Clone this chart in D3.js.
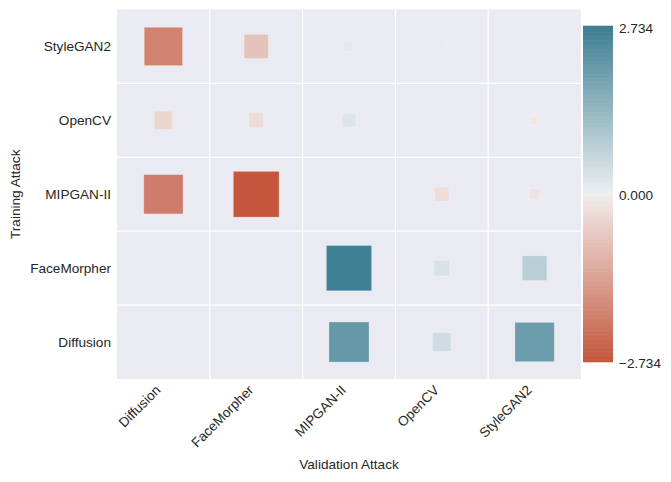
<!DOCTYPE html>
<html>
<head>
<meta charset="utf-8">
<title>Training vs validation attack</title>
<script src="https://cdn.jsdelivr.net/npm/d3@7"></script>
<style>
  body { margin: 0; background: #fff; }
  text { font-family: "Liberation Sans", Arial, sans-serif; font-size: 13.6px; fill: #262626; }
</style>
</head>
<body>
<script>
// validation attacks along x, training attacks along y (top to bottom)
var valAttacks = ["Diffusion", "FaceMorpher", "MIPGAN-II", "OpenCV", "StyleGAN2"];
var trainAttacks = ["StyleGAN2", "OpenCV", "MIPGAN-II", "FaceMorpher", "Diffusion"];

// one row per training attack, values in valAttacks order (null = no marker)
var rowStyleGAN2   = [-1.92, -0.77,  0.14,  0.11,  null];
var rowOpenCV      = [-0.44, -0.29,  0.25,  null, -0.11];
var rowMIPGAN      = [-2.02, -2.734, null, -0.27, -0.16];
var rowFaceMorpher = [ null,  null,  2.68,  0.32,  0.80];
var rowDiffusion   = [ null,  null,  2.10,  0.46,  2.02];
var rows = [rowStyleGAN2, rowOpenCV, rowMIPGAN, rowFaceMorpher, rowDiffusion];

var vmax = 2.734;
var cbarTicks = [-2.734, 0, 2.734];

var width = 671, height = 482;
var plot = {left: 117, right: 581, top: 9.5, bottom: 379};

var svg = d3.select("body").append("svg").attr("width", width).attr("height", height);

var x = d3.scaleBand().domain(valAttacks).range([plot.left, plot.right]);
var y = d3.scaleBand().domain(trainAttacks).range([plot.top, plot.bottom]);
var size = d3.scaleSqrt().domain([0, vmax]).range([0, 45.7]);
var color = d3.scaleLinear()
    .domain([-vmax, -0.02, 0, 0.02, vmax])
    .range(["#c3563c", "#f1ecea", "#f2f2f2", "#ebeff1", "#3d7e92"])
    .interpolate(d3.interpolateRgb);

// background + grid at cell borders
svg.append("rect").attr("x", plot.left).attr("y", plot.top)
    .attr("width", plot.right - plot.left).attr("height", plot.bottom - plot.top)
    .attr("fill", "#eaeaf2");
svg.selectAll(".vgrid").data(valAttacks.slice(1)).enter().append("line")
    .attr("x1", d => x(d)).attr("x2", d => x(d))
    .attr("y1", plot.top).attr("y2", plot.bottom)
    .attr("stroke", "#fff").attr("stroke-width", 1.2);
svg.selectAll(".hgrid").data(trainAttacks.slice(1)).enter().append("line")
    .attr("y1", d => y(d)).attr("y2", d => y(d))
    .attr("x1", plot.left).attr("x2", plot.right)
    .attr("stroke", "#fff").attr("stroke-width", 1.2);

// square markers
var cells = [];
rows.forEach(function (r, i) {
    r.forEach(function (v, j) {
        if (v !== null) cells.push({train: trainAttacks[i], val: valAttacks[j], v: v});
    });
});
svg.selectAll(".cell").data(cells).enter().append("rect")
    .attr("class", "cell")
    .attr("x", d => x(d.val) + x.bandwidth() / 2 - size(Math.abs(d.v)) / 2)
    .attr("y", d => y(d.train) + y.bandwidth() / 2 - size(Math.abs(d.v)) / 2)
    .attr("width", d => size(Math.abs(d.v)))
    .attr("height", d => size(Math.abs(d.v)))
    .attr("fill", d => color(d.v))
    .attr("stroke", "#fff").attr("stroke-opacity", 0.3).attr("stroke-width", 0.8);

// tick labels
svg.selectAll(".ylab").data(trainAttacks).enter().append("text")
    .attr("x", plot.left - 6)
    .attr("y", d => y(d) + y.bandwidth() / 2)
    .attr("dy", "0.35em").attr("text-anchor", "end")
    .text(d => d);
svg.selectAll(".xlab").data(valAttacks).enter().append("text")
    .attr("text-anchor", "end")
    .attr("transform", d => "translate(" + (x(d) + x.bandwidth() / 2 - 2) + "," + (plot.bottom + 12) + ") rotate(-45)")
    .text(d => d);

svg.append("text").attr("x", (plot.left + plot.right) / 2).attr("y", 469)
    .attr("text-anchor", "middle").text("Validation Attack");
svg.append("text").attr("transform", "translate(20," + (plot.top + plot.bottom) / 2 + ") rotate(-90)")
    .attr("text-anchor", "middle").text("Training Attack");

// colour bar
var cb = {x: 583, w: 30, top: 26, bottom: 362};
var nBars = 256;
var cbY = d3.scaleLinear().domain([-vmax, vmax]).range([cb.bottom, cb.top]);
var steps = d3.range(nBars).map(i => -vmax + (i + 0.5) * 2 * vmax / nBars);
var barH = (cb.bottom - cb.top) / nBars;
svg.selectAll(".cbar").data(steps).enter().append("rect")
    .attr("x", cb.x).attr("width", cb.w)
    .attr("y", d => cbY(d) - barH / 2 - 0.3).attr("height", barH + 0.6)
    .attr("fill", d => color(d));
svg.selectAll(".cbtick").data(cbarTicks).enter().append("text")
    .attr("x", 619).attr("y", d => cbY(d) + (d > 0 ? 2 : 1))
    .attr("dy", "0.35em")
    .text(d => d3.format(".3f")(d));
</script>
</body>
</html>
